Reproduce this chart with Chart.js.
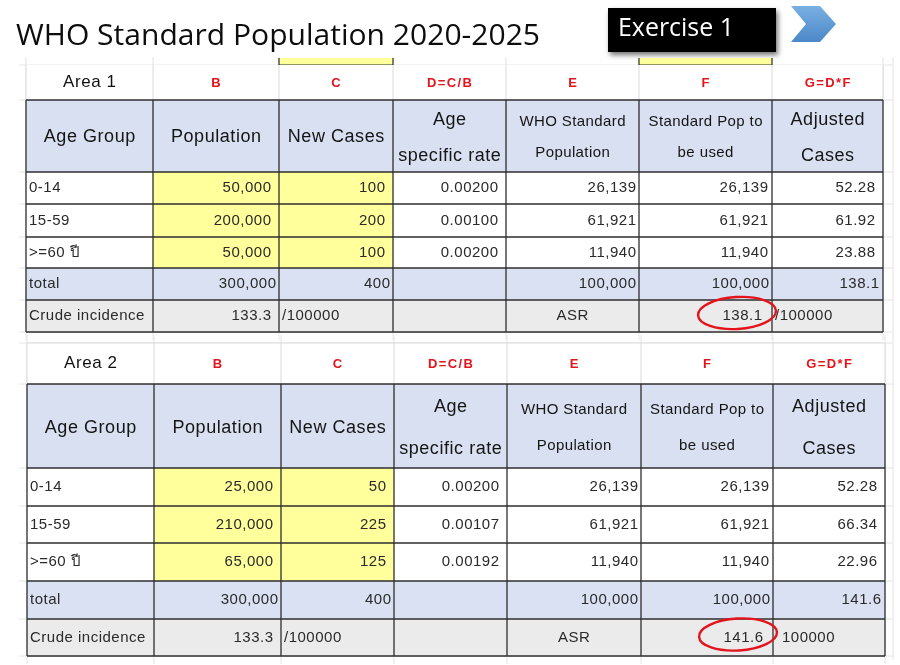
<!DOCTYPE html>
<html>
<head>
<meta charset="utf-8">
<title>WHO Standard Population 2020-2025</title>
<script src="https://cdn.jsdelivr.net/npm/chart.js@4.4.1/dist/chart.umd.min.js"></script>
<style>
    html, body { margin: 0; padding: 0; background: #ffffff; }
    #wrap { width: 900px; height: 665px; }
</style>
</head>
<body>
<div id="wrap"><canvas id="sheet" width="900" height="665"></canvas></div>
<script>
// ==========================================================================
// Data
// ==========================================================================
const pageTitle = 'WHO Standard Population 2020-2025';
const exerciseLabel = 'Exercise 1';
const areaNames = ['Area 1', 'Area 2'];
const columnLetters = ['B', 'C', 'D=C/B', 'E', 'F', 'G=D*F'];
const headerLabels = [
    ['Age Group'], ['Population'], ['New Cases'], ['Age', 'specific rate'],
    ['WHO Standard', 'Population'], ['Standard Pop to', 'be used'], ['Adjusted', 'Cases']
];
const ageGroups = ['0-14', '15-59', '>=60 ปี'];
const whoStandardPop = [26139, 61921, 11940];
const whoStandardTotal = 100000;

const area1Population = [50000, 200000, 50000];
const area1NewCases = [100, 200, 100];
const area1Rates = [0.00200, 0.00100, 0.00200];
const area1Adjusted = [52.28, 61.92, 23.88];
const area1Totals = [300000, 400, 138.1];   // population, cases, adjusted
const area1Crude = 133.3;
const area1ASR = 138.1;

const area2Population = [25000, 210000, 65000];
const area2NewCases = [50, 225, 125];
const area2Rates = [0.00200, 0.00107, 0.00192];
const area2Adjusted = [52.28, 66.34, 22.96];
const area2Totals = [300000, 400, 141.6];
const area2Crude = 133.3;
const area2ASR = 141.6;

const areas = [
    { name: areaNames[0], pop: area1Population, cases: area1NewCases, rate: area1Rates, adj: area1Adjusted, totals: area1Totals, crude: area1Crude, asr: area1ASR, perLabel: '/100000' },
    { name: areaNames[1], pop: area2Population, cases: area2NewCases, rate: area2Rates, adj: area2Adjusted, totals: area2Totals, crude: area2Crude, asr: area2ASR, perLabel: '100000' }
];

// ==========================================================================
// Layout (grid edges in sheet units, styles)
// ==========================================================================
const tableGrids = [
    { cols: [26, 153, 279, 393, 506, 639, 772, 883], rows: [65, 100, 172, 204, 237, 268, 300, 332] },
    { cols: [27, 154, 281, 394, 507, 641, 773, 885], rows: [343, 384, 468, 506, 543, 581, 619, 656] }
];
const dataPad = [3, 8, 8, 8, 3, 4, 8];
const totalPad = 3;

const FONT = '"Liberation Sans", Arial, "DejaVu Sans", sans-serif';
const TITLE_FONT = '"Open Sans", "Noto Sans", sans-serif';
const C = {
    border: '#2e2e2e',
    light: '#d9d9d9',
    header: '#d8e0f1',
    total: '#d9e1f2',
    crude: '#ebebeb',
    yellow: '#ffff9c',
    red: '#e3141c',
    text: '#2a2a2a',
    head: '#151515'
};

const fmtInt = v => v.toLocaleString('en-US');

// ==========================================================================
// Drawing helpers
// ==========================================================================
function text(ctx, s, x, y, align, size, color, spacing, weight) {
    ctx.font = (weight || 'normal') + ' ' + size + 'px ' + FONT;
    ctx.fillStyle = color;
    ctx.textAlign = align;
    ctx.textBaseline = 'middle';
    ctx.letterSpacing = (spacing || 0) + 'px';
    // letter spacing adds a trailing gap; compensate for right/center alignment
    const shift = align === 'right' ? (spacing || 0) : align === 'center' ? (spacing || 0) / 2 : 0;
    ctx.fillText(s, x + shift, y);
    ctx.letterSpacing = '0px';
}

function fitText(ctx, s, x, baseline, size, width, color) {
    ctx.font = size + 'px ' + TITLE_FONT;
    ctx.textAlign = 'left';
    ctx.textBaseline = 'alphabetic';
    ctx.fillStyle = color;
    const w = ctx.measureText(s).width;
    ctx.save();
    ctx.translate(x, baseline);
    ctx.scale(width / w, 1);
    ctx.fillText(s, 0, 0);
    ctx.restore();
}

function line(ctx, x1, y1, x2, y2, color, width) {
    ctx.strokeStyle = color;
    ctx.lineWidth = width;
    ctx.beginPath();
    ctx.moveTo(x1, y1);
    ctx.lineTo(x2, y2);
    ctx.stroke();
}

// ==========================================================================
// Sheet plugin: draws the two tables through the chart's x / y scales
// ==========================================================================
const sheetPlugin = {
    id: 'sheet',
    afterDraw(chart) {
        const ctx = chart.ctx;
        const sx = v => chart.scales.x.getPixelForValue(v);
        const sy = v => chart.scales.y.getPixelForValue(v);
        ctx.save();

        // --- title + "Exercise 1" box + chevron ---
        fitText(ctx, pageTitle, sx(16), sy(45), 30, sx(540) - sx(16), '#0d0d0d');

        ctx.save();
        ctx.shadowColor = 'rgba(0,0,0,0.55)';
        ctx.shadowBlur = 5;
        ctx.shadowOffsetX = 2;
        ctx.shadowOffsetY = 3;
        ctx.fillStyle = '#000000';
        ctx.fillRect(sx(608), sy(8), sx(776) - sx(608), sy(52) - sy(8));
        ctx.restore();
        fitText(ctx, exerciseLabel, sx(618), sy(36), 25, sx(734) - sx(618), '#ffffff');

        const grad = ctx.createLinearGradient(0, sy(6), 0, sy(42));
        grad.addColorStop(0, '#79b0e2');
        grad.addColorStop(1, '#4c88c8');
        ctx.fillStyle = grad;
        ctx.beginPath();
        ctx.moveTo(sx(791), sy(6));
        ctx.lineTo(sx(820), sy(6));
        ctx.lineTo(sx(836), sy(24));
        ctx.lineTo(sx(820), sy(42));
        ctx.lineTo(sx(791), sy(42));
        ctx.lineTo(sx(806), sy(24));
        ctx.closePath();
        ctx.fill();

        // --- faint spreadsheet grid behind the tables ---
        tableGrids.forEach(g => {
            g.rows.forEach(r => line(ctx, sx(19), sy(r), sx(893), sy(r), '#e4e4e4', 1));
            g.cols.forEach(c => line(ctx, sx(c), sy(g.rows[0] - 8), sx(c), sy(g.rows[7] + 8), '#e4e4e4', 1));
            line(ctx, sx(893), sy(g.rows[0] - 8), sx(893), sy(g.rows[7] + 4), '#e4e4e4', 1);
        });

        // yellow input cells of the row above table 1
        const g0 = tableGrids[0];
        [2, 5].forEach(ci => {
            ctx.fillStyle = C.yellow;
            ctx.fillRect(sx(g0.cols[ci]), sy(58), sx(g0.cols[ci + 1]) - sx(g0.cols[ci]), sy(g0.rows[0]) - sy(58));
            line(ctx, sx(g0.cols[ci]), sy(58), sx(g0.cols[ci]), sy(g0.rows[0]), C.border, 1.2);
            line(ctx, sx(g0.cols[ci + 1]), sy(58), sx(g0.cols[ci + 1]), sy(g0.rows[0]), C.border, 1.2);
            line(ctx, sx(g0.cols[ci]), sy(g0.rows[0]), sx(g0.cols[ci + 1]), sy(g0.rows[0]), C.border, 1.2);
        });

        areas.forEach((area, t) => {
            const g = tableGrids[t];
            const X = i => sx(g.cols[i]);
            const Y = j => sy(g.rows[j]);
            const midY = j => (Y(j) + Y(j + 1)) / 2;
            const cellW = i => X(i + 1) - X(i);

            // fills
            for (let i = 0; i < 7; i++) {
                ctx.fillStyle = '#ffffff';
                ctx.fillRect(X(i), Y(0), cellW(i), Y(1) - Y(0));
                ctx.fillStyle = C.header;
                ctx.fillRect(X(i), Y(1), cellW(i), Y(2) - Y(1));
                for (let r = 0; r < ageGroups.length; r++) {
                    ctx.fillStyle = (i === 1 || i === 2) ? C.yellow : '#ffffff';
                    ctx.fillRect(X(i), Y(2 + r), cellW(i), Y(3 + r) - Y(2 + r));
                }
                ctx.fillStyle = C.total;
                ctx.fillRect(X(i), Y(5), cellW(i), Y(6) - Y(5));
                ctx.fillStyle = C.crude;
                ctx.fillRect(X(i), Y(6), cellW(i), Y(7) - Y(6));
            }

            // borders: light in the letter row, dark in the table body
            for (let i = 0; i < 8; i++) line(ctx, X(i), Y(0), X(i), Y(1), C.light, 1);
            if (t === 1) line(ctx, X(0), Y(0), X(7), Y(0), C.light, 1);
            for (let j = 1; j < 8; j++) line(ctx, X(0), Y(j), X(7), Y(j), C.border, 1.3);
            for (let i = 0; i < 8; i++) line(ctx, X(i), Y(1), X(i), Y(7), C.border, 1.3);

            // letter row
            text(ctx, area.name, (X(0) + X(1)) / 2, midY(0), 'center', 17, '#111111', 0.6);
            columnLetters.forEach((s, k) => {
                text(ctx, s, (X(k + 1) + X(k + 2)) / 2, midY(0) + 1, 'center', 13, C.red, 1.4, 'bold');
            });

            // header row
            const hTop = Y(1), hH = Y(2) - Y(1);
            headerLabels.forEach((lines, i) => {
                const cx = (X(i) + X(i + 1)) / 2;
                const small = (i === 4 || i === 5);
                const size = small ? 15 : 18;
                const sp = small ? 0.4 : 0.55;
                if (lines.length === 1) {
                    text(ctx, lines[0], cx, hTop + hH * 0.52, 'center', size, C.head, sp);
                } else {
                    const f = small ? [0.31, 0.74] : [0.28, 0.78];
                    text(ctx, lines[0], cx, hTop + hH * f[0], 'center', size, C.head, sp);
                    text(ctx, lines[1], cx, hTop + hH * f[1], 'center', size, C.head, sp);
                }
            });

            // age-group rows
            ageGroups.forEach((ag, r) => {
                const y = midY(2 + r);
                const vals = [fmtInt(area.pop[r]), fmtInt(area.cases[r]), area.rate[r].toFixed(5),
                              fmtInt(whoStandardPop[r]), fmtInt(whoStandardPop[r]), area.adj[r].toFixed(2)];
                text(ctx, ag, X(0) + dataPad[0], y, 'left', 15, C.text, 0.5);
                vals.forEach((v, k) => text(ctx, v, X(k + 2) - dataPad[k + 1], y, 'right', 15, C.text, 0.5));
            });

            // total row
            const yT = midY(5);
            text(ctx, 'total', X(0) + 3, yT, 'left', 15, C.text, 0.5);
            text(ctx, fmtInt(area.totals[0]), X(2) - totalPad, yT, 'right', 15, C.text, 0.5);
            text(ctx, fmtInt(area.totals[1]), X(3) - totalPad, yT, 'right', 15, C.text, 0.5);
            text(ctx, fmtInt(whoStandardTotal), X(5) - totalPad, yT, 'right', 15, C.text, 0.5);
            text(ctx, fmtInt(whoStandardTotal), X(6) - totalPad, yT, 'right', 15, C.text, 0.5);
            text(ctx, area.totals[2].toFixed(1), X(7) - totalPad - 1, yT, 'right', 15, C.text, 0.5);

            // crude incidence / ASR row
            const yC = midY(6);
            text(ctx, 'Crude incidence', X(0) + 3, yC, 'left', 15, C.text, 0.5);
            text(ctx, area.crude.toFixed(1), X(2) - 8, yC, 'right', 15, C.text, 0.5);
            text(ctx, '/100000', X(2) + 3, yC, 'left', 15, C.text, 0.5);
            text(ctx, 'ASR', (X(4) + X(5)) / 2, yC, 'center', 15, C.text, 0.5);
            text(ctx, area.asr.toFixed(1), X(6) - 10, yC, 'right', 15, C.text, 0.5);
            text(ctx, area.perLabel, X(6) + (t === 0 ? 3 : 9), yC, 'left', 15, C.text, 0.5);

            // red circle round the ASR value
            ctx.strokeStyle = C.red;
            ctx.lineWidth = 2.4;
            ctx.beginPath();
            ctx.ellipse(X(6) - 35, yC - 3, 39, 16, -0.06, 0, Math.PI * 2);
            ctx.stroke();
        });

        ctx.restore();
    }
};

// ==========================================================================
// Chart (hidden linear axes give the sheet coordinate system)
// ==========================================================================
const sheetChart = new Chart(document.getElementById('sheet').getContext('2d'), {
    type: 'scatter',
    data: { datasets: [] },
    options: {
        responsive: false,
        animation: false,
        events: [],
        layout: { padding: 0 },
        plugins: { legend: { display: false }, tooltip: { enabled: false } },
        scales: {
            x: { type: 'linear', min: 0, max: 900, display: false },
            y: { type: 'linear', min: 0, max: 665, reverse: true, display: false }
        }
    },
    plugins: [sheetPlugin]
});
</script>
</body>
</html>
